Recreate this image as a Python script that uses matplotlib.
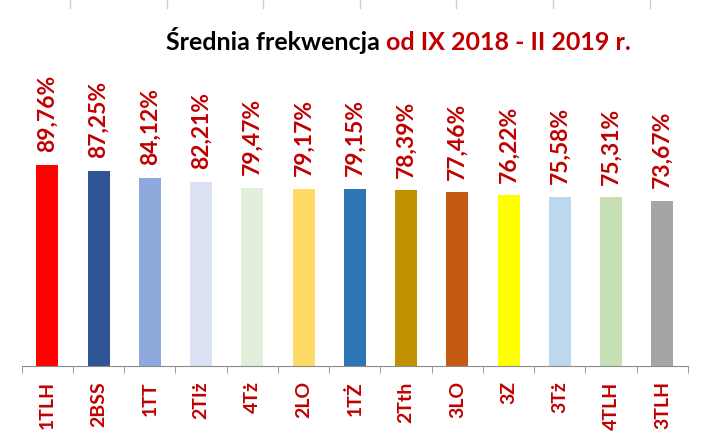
import matplotlib.pyplot as plt
from matplotlib.lines import Line2D

klasy = ["1TLH", "2BSS", "1TT", "2TIż", "4Tż", "2LO", "1TŻ", "2Tth", "3LO", "3Z", "3Tż", "4TLH", "3TLH"]
frekwencja = [89.76, 87.25, 84.12, 82.21, 79.47, 79.17, 79.15, 78.39, 77.46, 76.22, 75.58, 75.31, 73.67]
kolory = ["#FF0000", "#2F5597", "#8EA9DB", "#D9E1F2", "#E2EFDA", "#FFD966", "#2E75B6",
          "#BF9000", "#C55A11", "#FFFF00", "#BDD7EE", "#C6E0B4", "#A5A5A5"]

RED = "#C00000"
plt.rcParams['font.family'] = ['Lato', 'DejaVu Sans']

def main():
    fig = plt.figure(figsize=(7.11, 4.40), dpi=100)
    ax = fig.add_axes([21.7 / 711, 74 / 440, (688 - 21.7) / 711, 224 / 440])

    x = range(len(klasy))
    bars = ax.bar(x, frekwencja, width=0.43, color=kolory)
    ax.set_xlim(-0.5, len(klasy) - 0.5)
    ax.set_ylim(0, 100)

    for b, v in zip(bars, frekwencja):
        ax.annotate(f"{v:.2f}".replace('.', ',') + '%',
                    xy=(b.get_x() + b.get_width() / 2, v), xytext=(0, 9),
                    textcoords='offset points', rotation=90, ha='center', va='bottom',
                    color=RED, fontsize=16.5, fontweight='bold', annotation_clip=False)

    for s in ['top', 'left', 'right']:
        ax.spines[s].set_visible(False)
    ax.spines['bottom'].set_color('#8C8C8C')
    ax.set_yticks([])
    ax.set_xticks(list(x))
    ax.set_xticklabels(klasy, rotation=90, color=RED, fontsize=14, fontweight='bold')
    ax.tick_params(axis='x', which='major', length=0, pad=11)
    ax.set_xticks([i - 0.5 for i in range(len(klasy) + 1)], minor=True)
    ax.tick_params(axis='x', which='minor', length=5, color='#8C8C8C', direction='out')

    # tytul w dwoch kolorach
    t1 = fig.text(166 / 711, 390 / 440, "Średnia frekwencja ", fontsize=18,
                  fontweight='bold', color='black', va='baseline')
    ax.annotate("od IX 2018 - II 2019 r.", xy=(1, 0), xycoords=t1, va='bottom',
                fontsize=18, fontweight='bold', color=RED, annotation_clip=False)

    # resztki linii siatki arkusza na gorze
    for i in range(7):
        px = (70 + i * 96.6) / 711
        fig.add_artist(Line2D([px, px], [1, 1 - 8 / 440], color='#CFCFCF', lw=1))

    fig.savefig("out.png", dpi=100)

if __name__ == "__main__":
    main()
